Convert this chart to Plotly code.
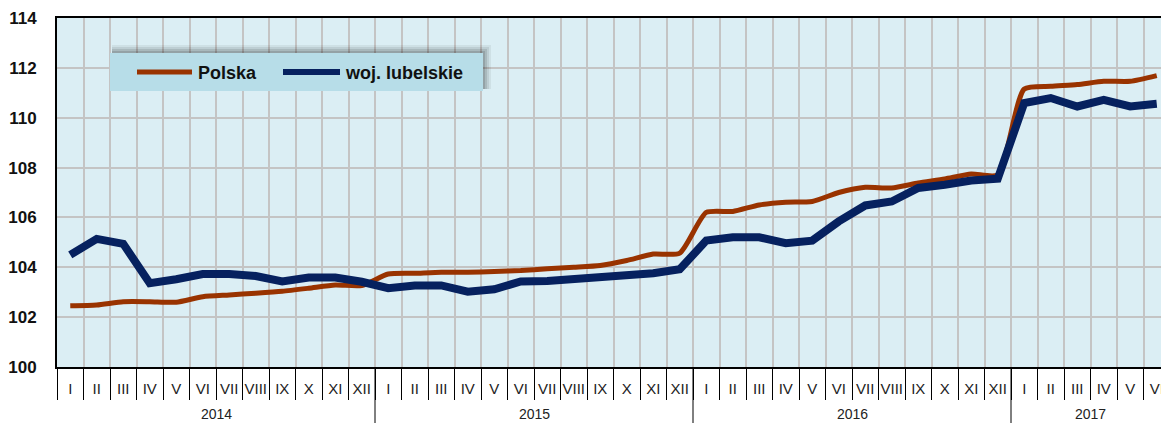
import numpy as np
import plotly.graph_objects as go

# ---- data ----
years = ["2014", "2015", "2016", "2017"]
months_full = ["I", "II", "III", "IV", "V", "VI", "VII", "VIII", "IX", "X", "XI", "XII"]
months_per_year = [12, 12, 12, 6]

polska = [102.46, 102.49, 102.62, 102.62, 102.60, 102.82, 102.89, 102.96, 103.04, 103.16, 103.29, 103.27,
          103.73, 103.76, 103.80, 103.80, 103.83, 103.87, 103.94, 104.00, 104.07, 104.27, 104.53, 104.57,
          106.20, 106.24, 106.50, 106.61, 106.64, 107.00, 107.21, 107.18, 107.38, 107.54, 107.74, 107.71,
          111.15, 111.26, 111.33, 111.46, 111.46, 111.69]
lubelskie = [104.50, 105.14, 104.94, 103.36, 103.52, 103.73, 103.73, 103.65, 103.43, 103.59, 103.59, 103.42,
             103.16, 103.27, 103.27, 103.02, 103.12, 103.43, 103.45, 103.52, 103.60, 103.67, 103.76, 103.92,
             105.07, 105.20, 105.20, 104.97, 105.07, 105.84, 106.48, 106.64, 107.18, 107.31, 107.48, 107.55,
             110.59, 110.79, 110.45, 110.72, 110.45, 110.56]
y_ticks = [100, 102, 104, 106, 108, 110, 112, 114]

month_labels = [m for n in months_per_year for m in months_full[:n]]
xs = np.arange(len(month_labels))

# ---- geometry helpers (pixel -> paper) ----
W, H = 1161, 423
ML, MR, MT, MB = 57, 0, 18, 56
PW, PH = W - ML - MR, H - MT - MB


def px(x):
    return (x - ML) / PW


def py(y):
    return (H - MB - y) / PH


fig = go.Figure()
fig.add_trace(go.Scatter(x=xs, y=polska, mode="lines", name="Polska",
                         line=dict(color="#993300", width=5, shape="spline", smoothing=0.6),
                         showlegend=False))
fig.add_trace(go.Scatter(x=xs, y=lubelskie, mode="lines", name="woj. lubelskie",
                         line=dict(color="#06215f", width=8),
                         showlegend=False))

shapes = []
annotations = []

# year dividers and year labels
start = 0
for yr, n in zip(years, months_per_year):
    if start > 0:
        shapes.append(dict(type="line", xref="x", yref="paper", x0=start - 0.5, x1=start - 0.5,
                           y0=0, y1=-MB / PH - 0.01, line=dict(color="black", width=1)))
    annotations.append(dict(xref="x", yref="paper", x=start + (n - 1) / 2, y=py(414),
                            text=yr, showarrow=False, xanchor="center", yanchor="middle",
                            font=dict(family="Liberation Sans, Arial", size=14, color="#222222")))
    start += n

# legend (manual) with shadow
lx0, lx1, ly0, ly1 = 110, 483, 53, 91
for d, op in [(8, 0.06), (6, 0.08), (4, 0.10), (2, 0.12)]:
    shapes.append(dict(type="rect", xref="paper", yref="paper",
                       x0=px(lx0 + 2), x1=px(lx1 + d), y0=py(ly1 - 2), y1=py(ly0 - d),
                       fillcolor=f"rgba(0,0,0,{op})", line=dict(width=0), layer="above"))
shapes.append(dict(type="rect", xref="paper", yref="paper",
                   x0=px(lx0), x1=px(lx1), y0=py(ly1), y1=py(ly0),
                   fillcolor="#b7dde8", line=dict(width=0), layer="above"))
shapes.append(dict(type="line", xref="paper", yref="paper", x0=px(137), x1=px(192), y0=py(72), y1=py(72),
                   line=dict(color="#993300", width=5), layer="above"))
shapes.append(dict(type="line", xref="paper", yref="paper", x0=px(283), x1=px(340), y0=py(72), y1=py(72),
                   line=dict(color="#06215f", width=6), layer="above"))
for txt, x in [("Polska", 196), ("woj. lubelskie", 343)]:
    annotations.append(dict(xref="paper", yref="paper", x=px(x), y=py(73), text=txt, showarrow=False,
                            xanchor="left", yanchor="middle",
                            font=dict(family="Liberation Sans, Arial", size=18, color="#111111",
                                      weight="bold")))

fig.update_layout(
    width=W, height=H,
    margin=dict(l=ML, r=MR, t=MT, b=MB, pad=0, autoexpand=False),
    paper_bgcolor="white",
    plot_bgcolor="#dbeef4",
    shapes=shapes,
    annotations=annotations,
    showlegend=False,
)

fig.update_xaxes(
    automargin=False,
    range=[-0.5, -0.5 + PW / 26.5],
    tickmode="array", tickvals=xs, ticktext=month_labels,
    ticks="", showgrid=False, zeroline=False,
    tickfont=dict(family="Liberation Sans, Arial", size=15, color="#222222"),
    ticklabelstandoff=7, ticklabeloverflow="allow",
    showline=True, linecolor="black", linewidth=2, mirror=True,
    minor=dict(tick0=-0.5, dtick=1, ticks="outside", ticklen=31, tickcolor="black", tickwidth=1,
               showgrid=True, gridcolor="#c4c4c4", gridwidth=2),
)
fig.update_yaxes(
    automargin=False,
    range=[100, 114], tickmode="array", tickvals=y_ticks,
    showgrid=True, gridcolor="#c4c4c4", gridwidth=2, zeroline=False,
    showline=True, linecolor="black", linewidth=2,
    ticks="", ticklabelstandoff=15,
    tickfont=dict(family="Liberation Sans, Arial", size=17, color="#111111", weight="bold"),
)

fig.write_html("out.html", config={"displayModeBar": False},
               post_script="document.body.style.margin='0';")
